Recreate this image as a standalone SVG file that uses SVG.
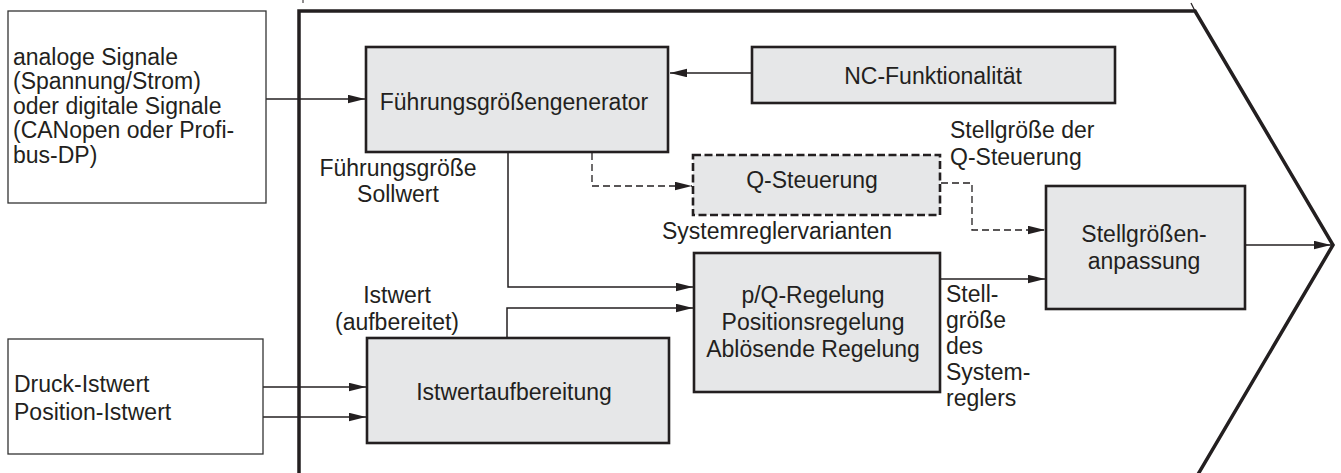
<svg xmlns="http://www.w3.org/2000/svg" width="1341" height="473" viewBox="0 0 1341 473">
  <defs>
    <marker id="arr" markerUnits="userSpaceOnUse" markerWidth="18" markerHeight="9" refX="17" refY="4.25" orient="auto">
      <path d="M0,0 L17,4.25 L0,8.5 z" fill="#231f20"/>
    </marker>
    <style>
      text { font-family: "Liberation Sans", Arial, sans-serif; font-size: 23px; fill: #231f20; }
      .mid { text-anchor: middle; }
      .ext { fill: #ffffff; stroke: #333333; stroke-width: 1.3; }
      .blk { fill: #e6e7e8; stroke: #231f20; stroke-width: 2.6; }
      .dsh { fill: #e6e7e8; stroke: #231f20; stroke-width: 2.6; stroke-dasharray: 8 3.5; }
      .con { fill: none; stroke: #231f20; stroke-width: 1.5; }
      .dcon { fill: none; stroke: #231f20; stroke-width: 1.3; stroke-dasharray: 7 4; }
      .frame { fill: none; stroke: #231f20; stroke-width: 3.5; stroke-linejoin: miter; }
    </style>
  </defs>
  <rect width="1341" height="473" fill="#ffffff"/>

  <g id="frame">
    <path class="frame" d="M299,476 V11 H1195 L1333,245 L1197,476"/>
    <line x1="1191" y1="3" x2="1195" y2="11" stroke="#231f20" stroke-width="1.2"/>
    <line x1="303" y1="0" x2="303" y2="3" stroke="#231f20" stroke-width="1"/>
  </g>

  <g id="connectors">
    <line class="con" x1="266" y1="99" x2="365" y2="99" marker-end="url(#arr)"/>
    <line class="con" x1="752" y1="73" x2="670" y2="73" marker-end="url(#arr)"/>
    <polyline class="dcon" points="592,153 592,186 692,186" marker-end="url(#arr)"/>
    <polyline class="dcon" points="941,183 972,183 972,230 1045,230" marker-end="url(#arr)"/>
    <polyline class="con" points="508,153 508,287 693,287" marker-end="url(#arr)"/>
    <polyline class="con" points="507,338 507,308 693,308" marker-end="url(#arr)"/>
    <line class="con" x1="263" y1="387" x2="366" y2="387" marker-end="url(#arr)"/>
    <line class="con" x1="263" y1="417" x2="366" y2="417" marker-end="url(#arr)"/>
    <line class="con" x1="941" y1="279" x2="1045" y2="279" marker-end="url(#arr)"/>
    <line class="con" x1="1246" y1="245" x2="1331" y2="245" marker-end="url(#arr)"/>
  </g>

  <g id="input-signale">
    <rect class="ext" x="8" y="11" width="258" height="192"/>
    <text x="13" y="65">analoge Signale</text>
    <text x="13" y="89">(Spannung/Strom)</text>
    <text x="13" y="114">oder digitale Signale</text>
    <text x="13" y="138">(CANopen oder Profi-</text>
    <text x="13" y="163">bus-DP)</text>
  </g>

  <g id="input-istwert">
    <rect class="ext" x="8" y="339" width="255" height="115"/>
    <text x="14" y="392">Druck-Istwert</text>
    <text x="14" y="420">Position-Istwert</text>
  </g>

  <g id="fuehrungsgroessengenerator">
    <rect class="blk" x="366" y="47" width="302" height="105"/>
    <text class="mid" x="514" y="110">Führungsgrößengenerator</text>
  </g>

  <g id="nc-funktionalitaet">
    <rect class="blk" x="752" y="47" width="363" height="56"/>
    <text class="mid" x="933" y="84">NC-Funktionalität</text>
  </g>

  <g id="q-steuerung">
    <rect class="dsh" x="693" y="155" width="247" height="60"/>
    <text class="mid" x="812" y="188">Q-Steuerung</text>
  </g>

  <g id="pq-regelung">
    <rect class="blk" x="694" y="253" width="246" height="139"/>
    <text class="mid" x="813" y="303">p/Q-Regelung</text>
    <text class="mid" x="813" y="330">Positionsregelung</text>
    <text class="mid" x="813" y="357">Ablösende Regelung</text>
  </g>

  <g id="istwertaufbereitung">
    <rect class="blk" x="367" y="338" width="302" height="105"/>
    <text class="mid" x="514" y="400">Istwertaufbereitung</text>
  </g>

  <g id="stellgroessenanpassung">
    <rect class="blk" x="1046" y="186" width="199" height="123"/>
    <text class="mid" x="1144" y="242">Stellgrößen-</text>
    <text class="mid" x="1144" y="269">anpassung</text>
  </g>

  <g id="labels">
    <text class="mid" x="398" y="176">Führungsgröße</text>
    <text class="mid" x="398" y="202">Sollwert</text>
    <text class="mid" x="397" y="303">Istwert</text>
    <text class="mid" x="397" y="330">(aufbereitet)</text>
    <text x="662" y="239">Systemreglervarianten</text>
    <text x="950" y="138">Stellgröße der</text>
    <text x="950" y="165">Q-Steuerung</text>
    <text x="946" y="302">Stell-</text>
    <text x="946" y="328">größe</text>
    <text x="946" y="354">des</text>
    <text x="946" y="380">System-</text>
    <text x="946" y="406">reglers</text>
  </g>
</svg>
